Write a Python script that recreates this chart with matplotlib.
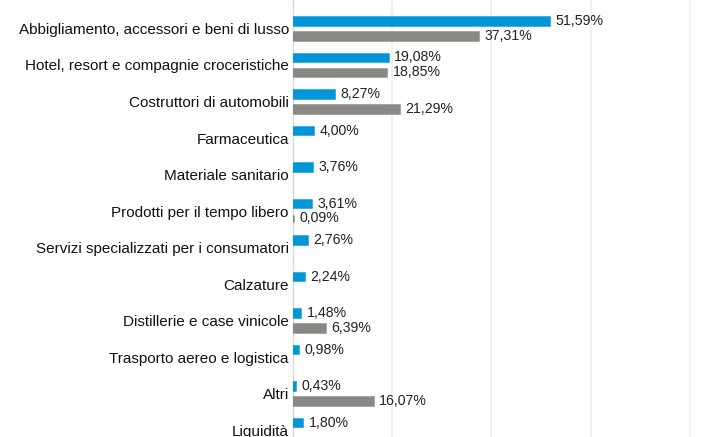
import matplotlib
matplotlib.use("Agg")
import matplotlib.pyplot as plt
import numpy as np

categories = [
    "Abbigliamento, accessori e beni di lusso",
    "Hotel, resort e compagnie croceristiche",
    "Costruttori di automobili",
    "Farmaceutica",
    "Materiale sanitario",
    "Prodotti per il tempo libero",
    "Servizi specializzati per i consumatori",
    "Calzature",
    "Distillerie e case vinicole",
    "Trasporto aereo e logistica",
    "Altri",
    "Liquidità",
]
blue_values = [51.59, 19.08, 8.27, 4.00, 3.76, 3.61, 2.76, 2.24, 1.48, 0.98, 0.43, 1.80]
gray_values = [37.31, 18.85, 21.29, None, None, 0.09, None, None, 6.39, None, 16.07, None]

plt.rcParams['font.family'] = ['Liberation Sans', 'DejaVu Sans']

fig = plt.figure(figsize=(7.04, 4.37), dpi=100)
ax = fig.add_axes([293/704, 0, 1 - 293/704, 1])

BLUE = "#0096D8"
GRAY = "#8A8884"
off = 0.205
h = 0.21

y = np.arange(len(categories))

def fmt(v):
    return f"{v:.2f}".replace(".", ",") + "%"

for i, v in enumerate(blue_values):
    if v is not None:
        ax.barh(i - off, v, height=h, color=BLUE, edgecolor=BLUE, linewidth=1.8, zorder=3)
        ax.text(v + 1.3, i - off, fmt(v), va="center", ha="left", fontsize=10.2, color="#222222")
for i, v in enumerate(gray_values):
    if v is not None:
        ax.barh(i + off, v, height=h, color=GRAY, edgecolor=GRAY, linewidth=1.8, zorder=3)
        ax.text(v + 1.3, i + off, fmt(v), va="center", ha="left", fontsize=10.2, color="#222222")

ax.set_xlim(0, (704 - 293) / 4.96)
ax.set_ylim(11.19, -0.78)
ax.set_xticks([20, 40, 60, 80])
ax.xaxis.grid(True, color="#EEEEEE", linewidth=1.2, zorder=0)
ax.tick_params(axis="x", bottom=False, labelbottom=False)
ax.set_yticks(y)
ax.set_yticklabels(categories, fontsize=11, color="#111111")
ax.tick_params(axis="y", length=0, pad=3)
for s in ["top", "right", "bottom"]:
    ax.spines[s].set_visible(False)
ax.spines["left"].set_color("#D9D9D9")
ax.spines["left"].set_linewidth(1)
ax.spines["left"].set_zorder(1)

fig.savefig("out.png", dpi=100)
